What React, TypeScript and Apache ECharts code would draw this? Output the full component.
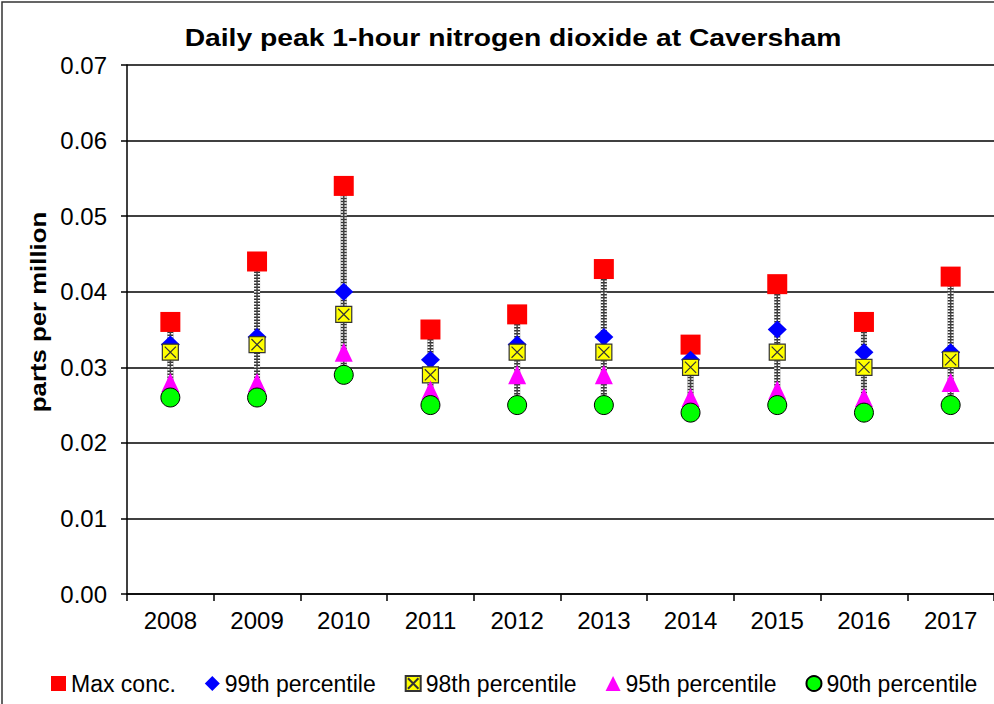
import React, { useEffect, useRef } from "react";
import * as echarts from "echarts";

const years = ["2008", "2009", "2010", "2011", "2012", "2013", "2014", "2015", "2016", "2017"];
const maxConc = [0.036, 0.044, 0.054, 0.035, 0.037, 0.043, 0.033, 0.041, 0.036, 0.042];
const p99 = [0.033, 0.034, 0.040, 0.031, 0.033, 0.034, 0.031, 0.035, 0.032, 0.032];
const p98 = [0.032, 0.033, 0.037, 0.029, 0.032, 0.032, 0.030, 0.032, 0.030, 0.031];
const p95 = [0.028, 0.028, 0.032, 0.027, 0.029, 0.029, 0.026, 0.027, 0.026, 0.028];
const p90 = [0.026, 0.026, 0.029, 0.025, 0.025, 0.025, 0.024, 0.025, 0.024, 0.025];

const FONT = "Liberation Sans, Arial, sans-serif";
const X_SYMBOL = "path://M0,0 L10,0 L10,10 L0,10 Z M1.5,1.5 L8.5,8.5 M8.5,1.5 L1.5,8.5";

export default function App() {
  const ref = useRef<HTMLDivElement>(null);
  useEffect(() => {
    if (!ref.current) return;
    const chart = echarts.init(ref.current, undefined, { renderer: "svg" });
    const rangeData = years.map((_, i) => {
      const vals = [maxConc[i], p99[i], p98[i], p95[i], p90[i]];
      return [i, Math.min(...vals), Math.max(...vals)];
    });
    const option: any = {
      animation: false,
      backgroundColor: "#fff",
      grid: { left: 127, right: 0, top: 65, bottom: 110, containLabel: false },
      legend: {
        left: 46,
        top: 667,
        itemGap: 29,
        itemWidth: 15,
        itemHeight: 15,
        textStyle: { fontFamily: FONT, fontSize: 23, color: "#000" },
        data: [
          { name: "Max conc.", icon: "rect" },
          { name: "99th percentile", icon: "diamond" },
          { name: "98th percentile", icon: X_SYMBOL },
          { name: "95th percentile", icon: "triangle" },
          { name: "90th percentile", icon: "circle" },
        ],
      },
      xAxis: {
        type: "category",
        data: years,
        boundaryGap: true,
        axisLine: { lineStyle: { color: "#000", width: 1.5 } },
        axisTick: { show: true, length: 7, alignWithLabel: false, lineStyle: { color: "#000", width: 1.5 } },
        axisLabel: { fontFamily: FONT, fontSize: 24, color: "#000", margin: 14 },
      },
      yAxis: {
        type: "value",
        min: 0,
        max: 0.07,
        interval: 0.01,
        axisLine: { show: true, lineStyle: { color: "#000", width: 1.5 } },
        axisTick: { show: true, length: 6, lineStyle: { color: "#000", width: 1.5 } },
        axisLabel: {
          fontFamily: FONT,
          fontSize: 24,
          color: "#000",
          margin: 20,
          formatter: (v: number) => v.toFixed(2),
        },
        splitLine: { show: true, lineStyle: { color: "#000", width: 1.5 } },
      },
      graphic: [
        {
          type: "rect",
          shape: { x: 2, y: 2, width: 1010, height: 720 },
          style: { fill: "none", stroke: "#333", lineWidth: 1.5 },
          silent: true,
        },
        {
          type: "text",
          x: 513,
          y: 38,
          scaleX: 1.23,
          style: {
            text: "Daily peak 1-hour nitrogen dioxide at Caversham",
            fontFamily: FONT,
            fontSize: 23,
            fontWeight: "bold",
            fill: "#000",
            textAlign: "center",
            textVerticalAlign: "middle",
          },
        },
        {
          type: "text",
          x: 38,
          y: 312,
          rotation: Math.PI / 2,
          scaleX: 1.12,
          style: {
            text: "parts per million",
            fontFamily: FONT,
            fontSize: 23,
            fontWeight: "bold",
            fill: "#000",
            textAlign: "center",
            textVerticalAlign: "middle",
          },
        },
      ],
      series: [
        {
          type: "custom",
          name: "range",
          data: rangeData,
          z: 1,
          renderItem: (params: any, api: any) => {
            const x = api.coord([api.value(0), api.value(1)]);
            const top = api.coord([api.value(0), api.value(2)]);
            const shape = { x1: x[0], y1: x[1], x2: top[0], y2: top[1] };
            return {
              type: "group",
              children: [
                { type: "line", shape, style: { stroke: "#333", lineWidth: 6 } },
                { type: "line", shape, style: { stroke: "#fff", lineWidth: 6, lineDash: [1.5, 1.5] } },
                { type: "line", shape, style: { stroke: "#444", lineWidth: 1.5 } },
              ],
            };
          },
        },
        {
          type: "scatter",
          name: "Max conc.",
          data: maxConc,
          symbol: "rect",
          symbolSize: 20,
          z: 5,
          itemStyle: { color: "#ff0000", opacity: 1 },
        },
        {
          type: "scatter",
          name: "99th percentile",
          data: p99,
          symbol: "diamond",
          symbolSize: [19, 18],
          z: 5,
          itemStyle: { color: "#0000ff", opacity: 1 },
        },
        {
          type: "scatter",
          name: "98th percentile",
          data: p98,
          symbol: X_SYMBOL,
          symbolSize: 16,
          z: 5,
          itemStyle: { color: "#ffff00", borderColor: "#333", borderWidth: 1.2, opacity: 1 },
        },
        {
          type: "scatter",
          name: "95th percentile",
          data: p95,
          symbol: "triangle",
          symbolSize: [18, 19],
          z: 5,
          itemStyle: { color: "#ff00ff", opacity: 1 },
        },
        {
          type: "scatter",
          name: "90th percentile",
          data: p90,
          symbol: "circle",
          symbolSize: 19,
          z: 5,
          itemStyle: { color: "#00ff00", borderColor: "#000", borderWidth: 1, opacity: 1 },
        },
      ],
    };
    chart.setOption(option);
    return () => chart.dispose();
  }, []);
  return (
    <div
      ref={ref}
      style={{ position: "fixed", left: 0, top: 0, width: 994, height: 704, background: "#fff" }}
    />
  );
}
